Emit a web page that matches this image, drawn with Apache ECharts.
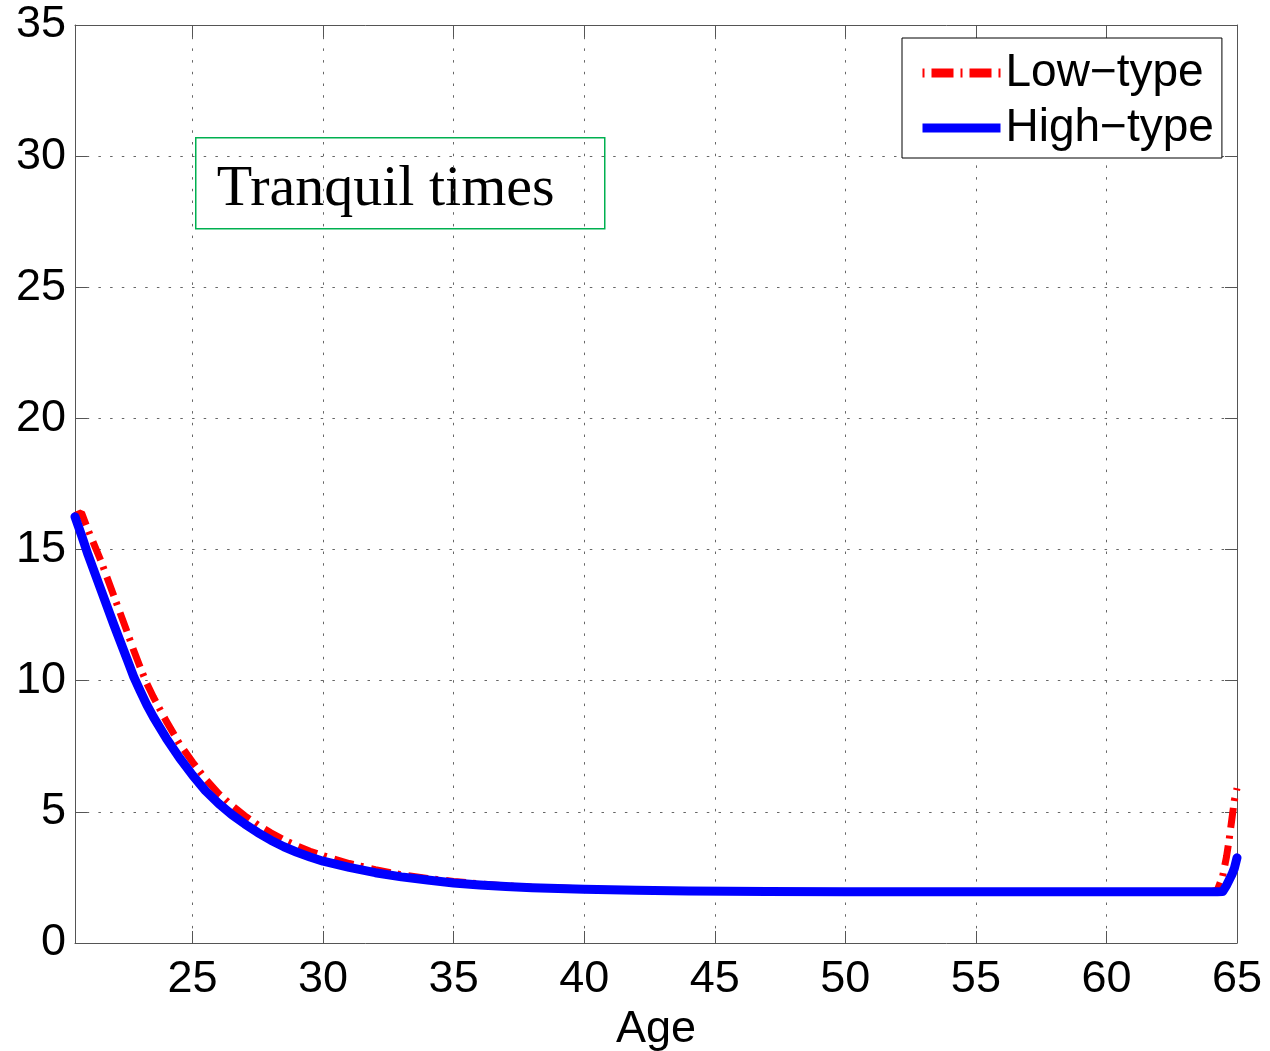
<!DOCTYPE html>
<html>
<head>
<meta charset="utf-8">
<title>Tranquil times</title>
<script src="https://cdn.jsdelivr.net/npm/echarts@6/dist/echarts.min.js"></script>
<style>
  html, body { margin: 0; padding: 0; background: #fff; }
  #chart { width: 1270px; height: 1051px; }
</style>
</head>
<body>
<div id="chart"></div>
<script>
// Age grid shared by both series
const ages = [
  20.5, 20.75, 21, 21.5, 22, 22.5, 22.75, 23, 23.25, 23.5, 24, 24.5, 25, 25.5, 26, 26.5, 27, 27.5,
  28, 28.5, 29, 29.5, 30, 31, 32, 33, 34, 35, 36, 37, 38, 40, 42, 44, 47, 50, 55, 60,
  64, 64.25, 64.45, 64.6, 64.7, 64.8, 64.9, 65
];

// Low-type profile
const lowType = [
  16.3, 16.4, 15.75, 14.55, 13.2, 11.85, 11.15, 10.5, 9.9, 9.38, 8.45, 7.6, 6.9, 6.25, 5.7, 5.25, 4.85, 4.5,
  4.2, 3.93, 3.7, 3.5, 3.33, 3.03, 2.8, 2.6, 2.46, 2.35, 2.25, 2.18, 2.13, 2.06, 2.01, 1.98, 1.96, 1.95, 1.95, 1.95,
  1.95, 2.02, 2.55, 3.3, 3.95, 4.7, 5.45, 5.9
];

// High-type profile
const highType = [
  16.25, 15.55, 14.8, 13.45, 12.1, 10.8, 10.15, 9.6, 9.08, 8.62, 7.8, 7.06, 6.4, 5.8, 5.32, 4.9, 4.54, 4.21,
  3.92, 3.67, 3.46, 3.28, 3.12, 2.88, 2.68, 2.52, 2.4, 2.29, 2.21, 2.15, 2.11, 2.05, 2.01, 1.98, 1.96, 1.95, 1.95, 1.95,
  1.95, 1.95, 1.96, 2.2, 2.4, 2.6, 2.85, 3.25
];

// Tick positions
const xTicks = [25, 30, 35, 40, 45, 50, 55, 60, 65];
const yTicks = [0, 5, 10, 15, 20, 25, 30, 35];

const axisColor = '#555';
const gridColor = '#666';
const labelFont = 'Liberation Sans, Arial, Helvetica, sans-serif';

const pair = (vals) => ages.map((a, i) => [a, vals[i]]);

const chart = echarts.init(document.getElementById('chart'), null, { renderer: 'canvas' });

const xBase = {
  type: 'value',
  min: 20.5,
  max: 65,
  axisLine: { show: true, onZero: false, lineStyle: { color: axisColor, width: 1 } },
  axisTick: { show: true, inside: true, length: 12, customValues: xTicks, lineStyle: { color: axisColor, width: 1 } }
};
const yBase = {
  type: 'value',
  min: 0,
  max: 35,
  interval: 5,
  axisLine: { show: true, onZero: false, lineStyle: { color: axisColor, width: 1 } },
  axisTick: { show: true, inside: true, length: 12, lineStyle: { color: axisColor, width: 1 } }
};

chart.setOption({
  backgroundColor: '#fff',
  animation: false,
  grid: { left: 75, top: 25, right: 33, bottom: 108, containLabel: false, outerBoundsMode: 'none' },
  xAxis: [
    Object.assign({}, xBase, {
      position: 'bottom',
      name: 'Age',
      nameLocation: 'middle',
      nameGap: 55,
      nameTextStyle: { fontFamily: labelFont, fontSize: 45, color: '#000' },
      axisLabel: { show: true, customValues: xTicks, margin: 14, fontFamily: labelFont, fontSize: 45, color: '#000' },
      splitLine: { show: true, lineStyle: { color: gridColor, width: 1, type: [2.5, 9.2] } }
    }),
    Object.assign({}, xBase, {
      position: 'top',
      axisLabel: { show: false },
      splitLine: { show: false }
    })
  ],
  yAxis: [
    Object.assign({}, yBase, {
      position: 'left',
      axisLabel: { show: true, margin: 9, fontFamily: labelFont, fontSize: 45, color: '#000' },
      splitLine: { show: true, lineStyle: { color: gridColor, width: 1, type: [2.5, 9.2] } }
    }),
    Object.assign({}, yBase, {
      position: 'right',
      axisLabel: { show: false },
      splitLine: { show: false }
    })
  ],
  legend: {
    orient: 'vertical',
    left: 902,
    top: 38,
    padding: [10, 8, 5, 16],
    itemGap: 5,
    itemWidth: 78,
    itemHeight: 14,
    backgroundColor: '#fff',
    borderColor: '#000',
    borderWidth: 1,
    borderRadius: 0,
    itemStyle: { opacity: 0 },
    textStyle: { fontFamily: labelFont, fontSize: 46, color: '#000', lineHeight: 50, padding: 0 },
    data: [
      { name: 'Low\u2212type', itemStyle: { opacity: 0 }, lineStyle: { color: '#ff0000', width: 9, type: [2, 7, 22, 7], cap: 'butt' } },
      { name: 'High\u2212type', itemStyle: { opacity: 0 }, lineStyle: { color: '#0000ff', width: 9, type: 'solid', cap: 'butt' } }
    ]
  },
  series: [
    {
      name: 'Low\u2212type',
      type: 'line',
      xAxisIndex: 0,
      yAxisIndex: 0,
      showSymbol: false,
      symbol: 'none',
      data: pair(lowType),
      lineStyle: { color: '#ff0000', width: 7, type: [20, 7, 3, 8] },
      itemStyle: { color: '#ff0000' },
      z: 2
    },
    {
      name: 'High\u2212type',
      type: 'line',
      xAxisIndex: 0,
      yAxisIndex: 0,
      showSymbol: false,
      symbol: 'none',
      data: pair(highType),
      lineStyle: { color: '#0000ff', width: 9, type: 'solid', join: 'round', cap: 'round' },
      itemStyle: { color: '#0000ff' },
      z: 3
    }
  ],
  graphic: [
    {
      type: 'group',
      left: 195,
      top: 137,
      children: [
        {
          type: 'rect',
          shape: { x: 0, y: 0, width: 409, height: 91 },
          style: { fill: '#fff', stroke: '#00b050', lineWidth: 1.5 }
        },
        {
          type: 'text',
          x: 21,
          y: 52,
          style: {
            text: 'Tranquil times',
            font: '58px "Liberation Serif", "Times New Roman", serif',
            fill: '#000',
            textAlign: 'left',
            textVerticalAlign: 'middle'
          }
        }
      ]
    }
  ]
});
</script>
</body>
</html>
